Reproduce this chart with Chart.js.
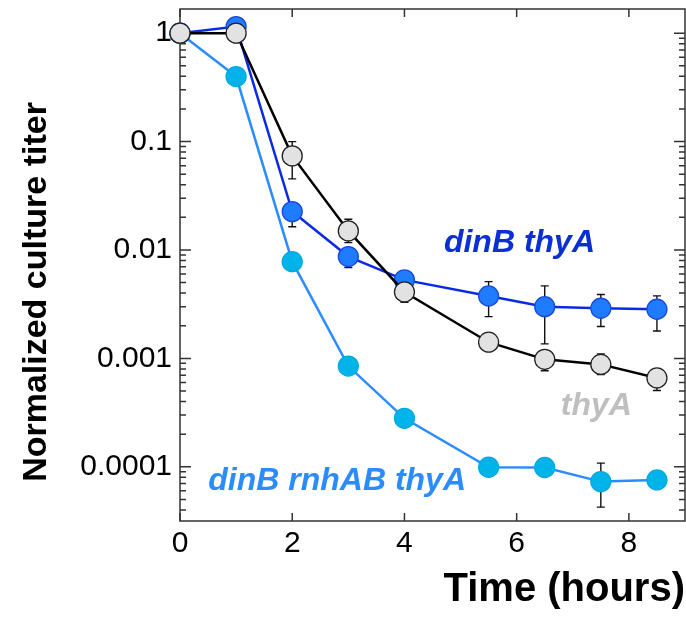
<!DOCTYPE html>
<html><head><meta charset="utf-8">
<script src="https://cdn.jsdelivr.net/npm/chart.js@4"></script>
<style>html,body{margin:0;padding:0;background:#fff;overflow:hidden}canvas{display:block}</style>
</head><body><canvas id="c" width="686" height="620" style="width:686px;height:620px"></canvas>
<script>
// ---- data ----
const timeHours = [0, 1, 2, 3, 4, 5.5, 6.5, 7.5, 8.5];
const thyA      = [1, 1, 0.0738, 0.0150, 0.0041, 0.00141, 0.00098, 0.00088, 0.00066];
const thyALow   = [null, null, 0.0453, 0.0117, 0.0033, 0.00128, 0.00077, 0.00071, 0.000505];
const thyAHigh  = [null, null, 0.100, 0.0192, 0.0047, 0.00155, 0.00115, 0.00110, 0.00076];
const dinBthyA  = [1, 1.15, 0.0226, 0.0087, 0.0053, 0.00377, 0.0030, 0.0029, 0.00284];
const dinBLow   = [null, null, 0.0164, 0.0069, null, 0.00243, 0.00136, 0.00197, 0.00179];
const dinBHigh  = [null, null, 0.026, 0.0098, null, 0.00511, 0.00467, 0.00388, 0.00377];
const rnhAB     = [1, 0.398, 0.0078, 0.00085, 0.00028, 0.000099, 0.0000985, 0.0000730, 0.0000756];
const rnhABLow  = [null, null, null, null, null, 0.000085, 0.000083, 0.0000425, 0.000068];
const rnhABHigh = [null, null, null, null, null, 0.000112, 0.000112, 0.000108, 0.000083];
const xTickValues = [0, 2, 4, 6, 8];
const yTickValues = [0.0001, 0.001, 0.01, 0.1, 1];
const yTickLabels = ['0.0001', '0.001', '0.01', '0.1', '1'];
const seriesNames = ['thyA', 'dinB thyA', 'dinB rnhAB thyA'];
// text annotations anchored in data units
const annotX = [7.42, 6.05, 2.80];
const annotY = [0.000301, 0.00966, 0.0000612];

const FONT = '"Liberation Sans", Arial, Helvetica, sans-serif';
const colors = {
  thyA: {line: '#000000', fill: '#e2e2e2', edge: '#222222', text: '#bfbfbf'},
  dinB: {line: '#0a2be6', fill: '#1f7bff', edge: '#1848dd', text: '#0a2fd4'},
  rnh:  {line: '#2a8cff', fill: '#00b4ea', edge: '#00a8e0', text: '#2b8cff'}
};

function pts(vals){ return timeHours.map((t,i)=>({x:t, y:vals[i]})); }

const errorSets = [
  {low: thyALow, high: thyAHigh},
  {low: dinBLow, high: dinBHigh},
  {low: rnhABLow, high: rnhABHigh}
];

const framePlugin = {
  id: 'frameTicks',
  beforeDatasetsDraw(chart){
    const {ctx, chartArea: a, scales: {x, y}} = chart;
    ctx.save();
    // error bars (behind markers)
    ctx.strokeStyle = '#111'; ctx.lineWidth = 1.4;
    ctx.beginPath();
    errorSets.forEach(es => {
      timeHours.forEach((t, i) => {
        if (es.low[i] == null) return;
        const px = x.getPixelForValue(t);
        const p1 = y.getPixelForValue(es.low[i]);
        const p2 = y.getPixelForValue(es.high[i]);
        ctx.moveTo(px, p1); ctx.lineTo(px, p2);
        ctx.moveTo(px-4, p1); ctx.lineTo(px+4, p1);
        ctx.moveTo(px-4, p2); ctx.lineTo(px+4, p2);
      });
    });
    ctx.stroke();
    // frame
    ctx.strokeStyle = '#333'; ctx.lineWidth = 1.5;
    ctx.strokeRect(a.left, a.top, a.right - a.left, a.bottom - a.top);
    ctx.beginPath();
    xTickValues.forEach(v => {
      const px = x.getPixelForValue(v);
      ctx.moveTo(px, a.bottom); ctx.lineTo(px, a.bottom - 8);
      ctx.moveTo(px, a.top); ctx.lineTo(px, a.top + 8);
    });
    for (let e = -5; e <= 0; e++) {
      for (let m = 1; m <= 9; m++) {
        const v = m * Math.pow(10, e);
        if (v < y.min || v > y.max) continue;
        const py = y.getPixelForValue(v);
        const len = m === 1 ? 11 : 6;
        ctx.moveTo(a.left, py); ctx.lineTo(a.left + len, py);
        ctx.moveTo(a.right, py); ctx.lineTo(a.right - len, py);
      }
    }
    ctx.stroke();
    ctx.restore();
  },
  afterDraw(chart){
    const {ctx, chartArea: a, scales: {x, y}} = chart;
    ctx.save();
    // y-axis title
    ctx.translate(a.left - 134, (a.top + a.bottom) / 2 + 27);
    ctx.rotate(-Math.PI / 2);
    ctx.font = 'bold 34px ' + FONT;
    ctx.fillStyle = '#000';
    ctx.textAlign = 'center';
    ctx.textBaseline = 'alphabetic';
    ctx.fillText('Normalized culture titer', 0, 0);
    ctx.restore();
    // series annotations
    const txtColors = [colors.thyA.text, colors.dinB.text, colors.rnh.text];
    ctx.save();
    ctx.font = 'italic bold 32px ' + FONT;
    ctx.textAlign = 'center';
    ctx.textBaseline = 'alphabetic';
    seriesNames.forEach((n, i) => {
      ctx.fillStyle = txtColors[i];
      ctx.fillText(n, x.getPixelForValue(annotX[i]), y.getPixelForValue(annotY[i]));
    });
    ctx.restore();
  }
};

function ds(label, vals, c){
  return {
    label, data: pts(vals),
    borderColor: c.line, borderWidth: 2.5,
    pointRadius: 10, pointHoverRadius: 10,
    pointBackgroundColor: c.fill, pointBorderColor: c.edge, pointBorderWidth: 1.3,
    clip: false, tension: 0, fill: false
  };
}

new Chart(document.getElementById('c'), {
  type: 'line',
  data: {
    datasets: [
      ds(seriesNames[0], thyA, colors.thyA),
      ds(seriesNames[1], dinBthyA, colors.dinB),
      ds(seriesNames[2], rnhAB, colors.rnh)
    ]
  },
  options: {
    responsive: false, animation: false, devicePixelRatio: 1,
    layout: {autoPadding: false, padding: {top: 9, right: 1, left: 0, bottom: 0}},
    plugins: {legend: {display: false}, tooltip: {enabled: false}},
    scales: {
      x: {
        type: 'linear', min: 0, max: 9,
        afterBuildTicks: s => { s.ticks = xTickValues.map(v => ({value: v})); },
        grid: {display: false, drawTicks: false},
        border: {display: false},
        ticks: {color: '#000', padding: 5, font: {family: FONT, size: 30}, maxRotation: 0},
        title: {display: true, text: 'Time (hours)', align: 'end', color: '#000',
                font: {family: FONT, size: 40, weight: 'bold'}, padding: {top: 0, bottom: 6}},
        afterFit: s => { s.height = 99; s.paddingLeft = 0; s.paddingRight = 0; }
      },
      y: {
        type: 'logarithmic', min: Math.pow(10, -4.5), max: Math.pow(10, 0.223),
        afterBuildTicks: s => { s.ticks = yTickValues.map(v => ({value: v})); },
        grid: {display: false, drawTicks: false},
        border: {display: false},
        ticks: {color: '#000', padding: 8, font: {family: FONT, size: 30},
                callback: (v) => yTickLabels[yTickValues.indexOf(v)]},
        afterFit: s => { s.width = 180; s.paddingTop = 0; s.paddingBottom = 0; }
      }
    }
  },
  plugins: [framePlugin]
});
</script>
</body></html>
